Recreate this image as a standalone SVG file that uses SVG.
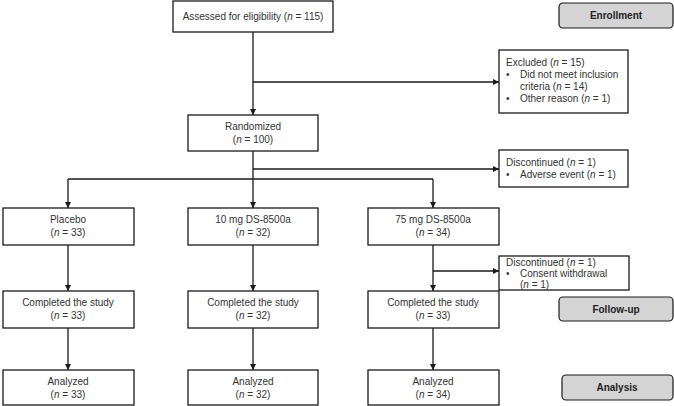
<svg xmlns="http://www.w3.org/2000/svg" width="674" height="406" viewBox="0 0 674 406">
<style>
.box{fill:#fff;stroke:#1a1a1a;stroke-width:1.3}
.stage{fill:#d4d4d4;stroke:#1a1a1a;stroke-width:1.2}
.t{font-family:"Liberation Sans",Arial,sans-serif;font-size:10px;fill:#333}
.c{text-anchor:middle}
.b{font-weight:bold;fill:#222}
.ln{fill:none;stroke:#1a1a1a;stroke-width:1.3}
</style>
<defs>
<marker id="ah" viewBox="0 0 10 10" refX="10" refY="5" markerWidth="6" markerHeight="6" orient="auto" markerUnits="userSpaceOnUse">
<path d="M0,0 L10,5 L0,10 z" fill="#1a1a1a"/>
</marker>
</defs>
<g id="connectors">
<path class="ln" d="M253,32 V115" marker-end="url(#ah)"/>
<path class="ln" d="M253,82 H499" marker-end="url(#ah)"/>
<path class="ln" d="M253,151 V179"/>
<path class="ln" d="M253,169 H499" marker-end="url(#ah)"/>
<path class="ln" d="M68,179 H433"/>
<path class="ln" d="M68,179 V208" marker-end="url(#ah)"/>
<path class="ln" d="M253,179 V208" marker-end="url(#ah)"/>
<path class="ln" d="M433,179 V208" marker-end="url(#ah)"/>
<path class="ln" d="M68,245 V291" marker-end="url(#ah)"/>
<path class="ln" d="M253,245 V291" marker-end="url(#ah)"/>
<path class="ln" d="M433,245 V291" marker-end="url(#ah)"/>
<path class="ln" d="M433,271 H499" marker-end="url(#ah)"/>
<path class="ln" d="M68,328 V370" marker-end="url(#ah)"/>
<path class="ln" d="M253,328 V370" marker-end="url(#ah)"/>
<path class="ln" d="M433,328 V370" marker-end="url(#ah)"/>
</g>
<g id="assessed">
<rect class="box" x="173" y="1" width="160" height="31"/>
<text class="t c" x="253" y="20">Assessed for eligibility (<tspan font-style="italic">n</tspan> = 115)</text>
</g>
<g id="enrollment">
<rect class="stage" x="559" y="3" width="114" height="25" rx="4"/>
<text class="t c b" x="616" y="19">Enrollment</text>
</g>
<g id="excluded">
<rect class="box" x="499" y="50" width="129" height="63"/>
<text class="t" x="506" y="66">Excluded (<tspan font-style="italic">n</tspan> = 15)</text>
<text class="t" x="506" y="78">•</text>
<text class="t" x="520" y="78">Did not meet inclusion</text>
<text class="t" x="520" y="90">criteria (<tspan font-style="italic">n</tspan> = 14)</text>
<text class="t" x="506" y="102">•</text>
<text class="t" x="520" y="102">Other reason (<tspan font-style="italic">n</tspan> = 1)</text>
</g>
<g id="randomized">
<rect class="box" x="188" y="115" width="130" height="36"/>
<text class="t c" x="253" y="130">Randomized</text>
<text class="t c" x="253" y="143">(<tspan font-style="italic">n</tspan> = 100)</text>
</g>
<g id="discontinued1">
<rect class="box" x="499" y="150" width="129" height="37"/>
<text class="t" x="506" y="166">Discontinued (<tspan font-style="italic">n</tspan> = 1)</text>
<text class="t" x="506" y="178">•</text>
<text class="t" x="520" y="178">Adverse event (<tspan font-style="italic">n</tspan> = 1)</text>
</g>
<g id="placebo">
<rect class="box" x="3" y="208" width="131" height="37"/>
<text class="t c" x="68" y="223">Placebo</text>
<text class="t c" x="68" y="236">(<tspan font-style="italic">n</tspan> = 33)</text>
</g>
<g id="dose10">
<rect class="box" x="188" y="208" width="130" height="37"/>
<text class="t c" x="253" y="223">10 mg DS-8500a</text>
<text class="t c" x="253" y="236">(<tspan font-style="italic">n</tspan> = 32)</text>
</g>
<g id="dose75">
<rect class="box" x="368" y="208" width="131" height="37"/>
<text class="t c" x="433" y="223">75 mg DS-8500a</text>
<text class="t c" x="433" y="236">(<tspan font-style="italic">n</tspan> = 34)</text>
</g>
<g id="discontinued2">
<rect class="box" x="499" y="256" width="130" height="34"/>
<text class="t" x="506" y="266">Discontinued (<tspan font-style="italic">n</tspan> = 1)</text>
<text class="t" x="506" y="277">•</text>
<text class="t" x="520" y="277">Consent withdrawal</text>
<text class="t" x="520" y="288">(<tspan font-style="italic">n</tspan> = 1)</text>
</g>
<g id="completed-placebo">
<rect class="box" x="3" y="291" width="131" height="37"/>
<text class="t c" x="68" y="306">Completed the study</text>
<text class="t c" x="68" y="319">(<tspan font-style="italic">n</tspan> = 33)</text>
</g>
<g id="completed-10">
<rect class="box" x="188" y="291" width="130" height="37"/>
<text class="t c" x="253" y="306">Completed the study</text>
<text class="t c" x="253" y="319">(<tspan font-style="italic">n</tspan> = 32)</text>
</g>
<g id="completed-75">
<rect class="box" x="368" y="291" width="131" height="37"/>
<text class="t c" x="433" y="306">Completed the study</text>
<text class="t c" x="433" y="319">(<tspan font-style="italic">n</tspan> = 33)</text>
</g>
<g id="followup">
<rect class="stage" x="559" y="297" width="114" height="24" rx="4"/>
<text class="t c b" x="616" y="313">Follow-up</text>
</g>
<g id="analyzed-placebo">
<rect class="box" x="3" y="370" width="131" height="35"/>
<text class="t c" x="68" y="385">Analyzed</text>
<text class="t c" x="68" y="398">(<tspan font-style="italic">n</tspan> = 33)</text>
</g>
<g id="analyzed-10">
<rect class="box" x="188" y="370" width="130" height="35"/>
<text class="t c" x="253" y="385">Analyzed</text>
<text class="t c" x="253" y="398">(<tspan font-style="italic">n</tspan> = 32)</text>
</g>
<g id="analyzed-75">
<rect class="box" x="368" y="370" width="131" height="35"/>
<text class="t c" x="433" y="385">Analyzed</text>
<text class="t c" x="433" y="398">(<tspan font-style="italic">n</tspan> = 34)</text>
</g>
<g id="analysis">
<rect class="stage" x="562" y="375" width="111" height="25" rx="4"/>
<text class="t c b" x="617" y="391">Analysis</text>
</g>
</svg>
